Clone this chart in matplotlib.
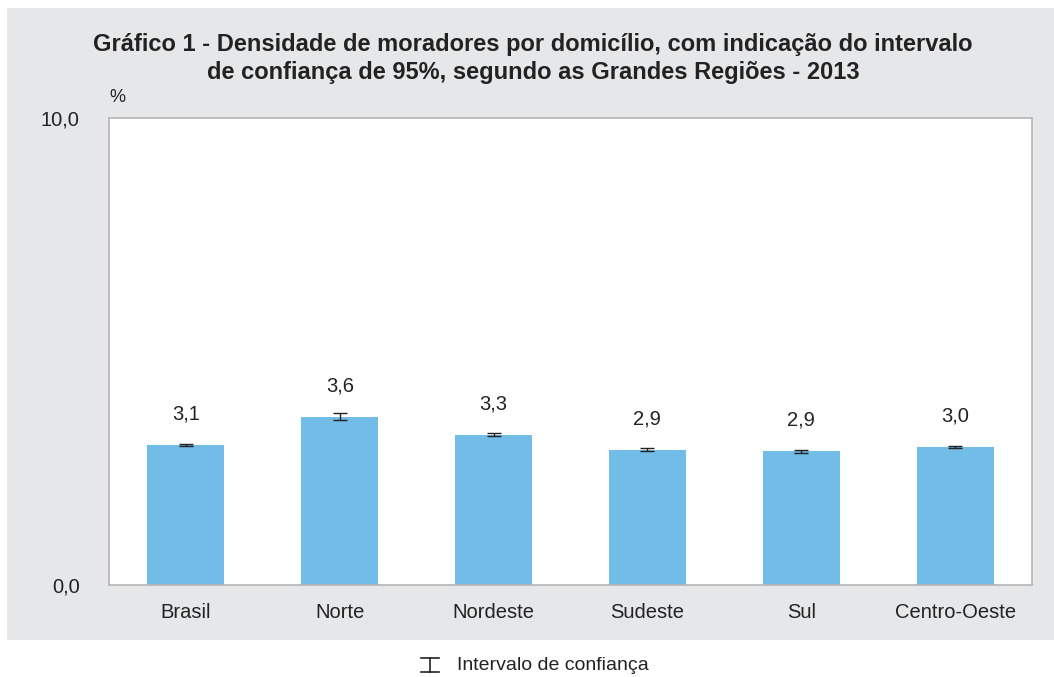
import matplotlib
matplotlib.use("Agg")
import matplotlib.pyplot as plt
from matplotlib.patches import Rectangle
from matplotlib.lines import Line2D

categories = ["Brasil", "Norte", "Nordeste", "Sudeste", "Sul", "Centro-Oeste"]
values = [3.0, 3.6, 3.22, 2.9, 2.86, 2.95]
errors = [0.025, 0.075, 0.025, 0.025, 0.025, 0.025]
value_labels = ["3,1", "3,6", "3,3", "2,9", "2,9", "3,0"]
ytick_vals = [0, 10]
ytick_labels = ["0,0", "10,0"]

plt.rcParams['font.family'] = ['Liberation Sans', 'DejaVu Sans']

fig = plt.figure(figsize=(10.54, 6.77), dpi=100)
fig.patch.set_facecolor("white")
bg = Rectangle((7/1054, (677-640)/677), 1 - 7/1054, (640-8)/677,
               transform=fig.transFigure, facecolor="#e6e7e9", edgecolor="none", zorder=-10)
fig.patches.append(bg)

ax = fig.add_axes([109/1054, (677-585)/677, (1032-109)/1054, (585-118)/677])
ax.set_zorder(5)
ax.set_facecolor("white")
x = list(range(len(categories)))
ax.bar(x, values, width=0.5, color="#72bce8", zorder=2)
ax.errorbar(x, values, yerr=errors, fmt="none", ecolor="#222222", elinewidth=1.0,
            capsize=5, capthick=1.0, zorder=3)
for xi, v, lab in zip(x, values, value_labels):
    ax.text(xi, v + 0.46, lab, ha="center", va="bottom", fontsize=14.5, color="#222222")

ax.set_xlim(-0.5, len(categories) - 0.5)
ax.set_ylim(0, 10)
ax.set_yticks(ytick_vals)
ax.set_yticklabels(ytick_labels, fontsize=14.5, color="#222222")
ax.set_xticks(x)
ax.set_xticklabels(categories, fontsize=14.5, color="#222222")
ax.tick_params(axis="x", length=0, pad=13)
ax.tick_params(axis="y", length=0, pad=21)
for s in ax.spines.values():
    s.set_color("#b5b5b5")
    s.set_linewidth(1.2)

fig.text(533/1054, 1 - 44/677, "Gráfico 1 - Densidade de moradores por domicílio, com indicação do intervalo",
         ha="center", va="center", fontsize=17, fontweight="bold", color="#222222")
fig.text(533/1054, 1 - 72/677, "de confiança de 95%, segundo as Grandes Regiões - 2013",
         ha="center", va="center", fontsize=17, fontweight="bold", color="#222222")
fig.text(117/1054, 1 - 97/677, "%", ha="center", va="center", fontsize=13, color="#222222")

# legend
lx, ly = 430/1054, 1 - 665/677
fig.add_artist(Line2D([lx, lx], [ly - 0.010, ly + 0.010], color="#222222", lw=1.2, transform=fig.transFigure))
fig.add_artist(Line2D([lx - 0.009, lx + 0.009], [ly + 0.010, ly + 0.010], color="#222222", lw=1.2, transform=fig.transFigure))
fig.add_artist(Line2D([lx - 0.009, lx + 0.009], [ly - 0.010, ly - 0.010], color="#222222", lw=1.2, transform=fig.transFigure))
fig.text(457/1054, ly, "Intervalo de confiança", ha="left", va="center", fontsize=14, color="#222222")

fig.savefig("out.png", dpi=100)
